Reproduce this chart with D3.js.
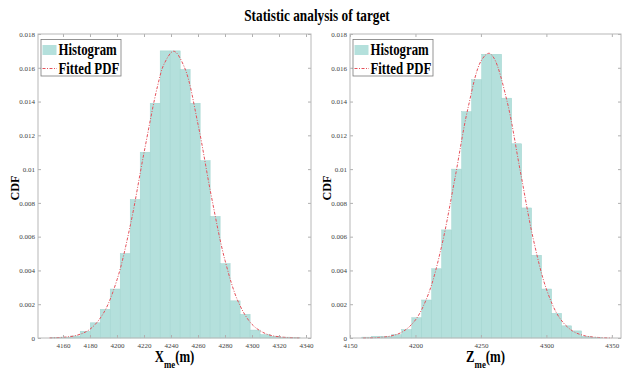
<!DOCTYPE html>
<html>
<head>
<meta charset="utf-8">
<script src="https://cdn.jsdelivr.net/npm/d3@7/dist/d3.min.js"></script>
<style>
body { margin: 0; background: #fff; }
svg { display: block; font-family: "Liberation Serif", "Times New Roman", serif; }
.axis { font-family: "Liberation Serif", "Times New Roman", serif; }
.axis .tick text { font-size: 7px; fill: #444; }
.axis .tick line { stroke: #b0b0b0; }
.axis path.domain { display: none; }
</style>
</head>
<body>
<div id="chart_area"></div>
<script>
// ---- data ----
var yTicks = [0, 0.002, 0.004, 0.006, 0.008, 0.01, 0.012, 0.014, 0.016, 0.018];
var yTickLabels = ["0", "0.002", "0.004", "0.006", "0.008", "0.01", "0.012", "0.014", "0.016", "0.018"];

// left panel (X_me)
var xTicksLeft = [4160, 4180, 4200, 4220, 4240, 4260, 4280, 4300, 4320, 4340];
var binEdgesLeft = [4150.6, 4158.0, 4165.4, 4172.8, 4180.2, 4187.6, 4195.0, 4202.4, 4209.8, 4217.2,
	4224.6, 4232.0, 4239.4, 4246.8, 4254.2, 4261.6, 4269.0, 4276.4, 4283.8, 4291.2,
	4298.6, 4306.0, 4313.4, 4320.8, 4328.2, 4335.6];
var histLeft = [0.00003, 0.00005, 0.00012, 0.0004, 0.0009, 0.0017, 0.0029, 0.0050, 0.0082, 0.0110,
	0.0139, 0.0170, 0.0170, 0.0159, 0.0139, 0.0105, 0.0072, 0.0044, 0.0022, 0.0014,
	0.00047, 0.0002, 0.0001, 0.00005, 0.00002];
var pdfXLeft = [4150, 4160, 4170, 4180, 4190, 4200, 4210, 4220, 4230, 4235, 4242, 4250, 4260, 4270, 4280, 4290, 4300, 4310, 4320, 4335];
var pdfYLeft = [0.000008, 0.00004, 0.000155, 0.00052, 0.00147, 0.00344, 0.00672, 0.01096, 0.0149, 0.01624, 0.01698, 0.01602, 0.01266, 0.00835, 0.0046, 0.00211, 0.00081, 0.00026, 0.00007, 0.000005];

// right panel (Z_me)
var xTicksRight = [4150, 4200, 4250, 4300, 4350];
var binEdgesRight = [4159.0, 4166.6, 4174.3, 4181.9, 4189.5, 4197.2, 4204.8, 4212.4, 4220.0, 4227.7,
	4235.3, 4242.9, 4250.6, 4258.2, 4265.8, 4273.5, 4281.1, 4288.7, 4296.3, 4304.0,
	4311.6, 4319.2, 4326.9, 4334.5, 4342.1];
var histRight = [0.00005, 0.0001, 0.0001, 0.0002, 0.0005, 0.0012, 0.00225, 0.0041, 0.0064, 0.0100,
	0.0134, 0.0153, 0.0168, 0.0168, 0.0142, 0.0115, 0.0077, 0.0049, 0.0029, 0.00146,
	0.00072, 0.00042, 0.0001, 0.00004];
var pdfXRight = [4160, 4170, 4180, 4190, 4200, 4210, 4220, 4230, 4240, 4250, 4256, 4260, 4270, 4280, 4290, 4300, 4310, 4320, 4330, 4340, 4350];
var pdfYRight = [0.000005, 0.000024, 0.0001, 0.00036, 0.00107, 0.00263, 0.00544, 0.00939, 0.01357, 0.01639, 0.01686, 0.01657, 0.01401, 0.00991, 0.00586, 0.0029, 0.0012, 0.000415, 0.00012, 0.00003, 0.000006];

var titleText = "Statistic analysis of target";
var yLabel = "CDF";
var legendLabels = ["Histogram", "Fitted PDF"];

// ---- frame ----
var frame_width = 622, frame_height = 369;
var svg = d3.select("#chart_area").append("svg")
	.attr("width", frame_width)
	.attr("height", frame_height);

var barFill = "#b4e0dc", barEdge = "#a0d3ce", pdfColor = "#e5505a", boxColor = "#b8b8b8";
var squeeze = 0.8; // the source picture is horizontally squashed

// title
svg.append("text")
	.attr("transform", "translate(317,20.5) scale(0.83,1)")
	.attr("text-anchor", "middle")
	.style("font-size", "16px")
	.style("font-weight", "bold")
	.text(titleText);

drawPanel({
	left: 38, right: 311, top: 34, bottom: 338,
	xDomain: [4141.5, 4343.7], xTicks: xTicksLeft,
	edges: binEdgesLeft, hist: histLeft, pdfX: pdfXLeft, pdfY: pdfYLeft,
	xName: "X", ylabX: 15
});

drawPanel({
	left: 350, right: 621, top: 34, bottom: 338,
	xDomain: [4150, 4357], xTicks: xTicksRight,
	edges: binEdgesRight, hist: histRight, pdfX: pdfXRight, pdfY: pdfYRight,
	xName: "Z", ylabX: 327
});

function drawPanel(p) {
	var xScale = d3.scaleLinear().domain(p.xDomain).range([p.left, p.right]);
	var yScale = d3.scaleLinear().domain([0, 0.018]).range([p.bottom, p.top]);
	var g = svg.append("g");

	// histogram bars
	var bars = p.hist.map(function(v, i) { return {x0: p.edges[i], x1: p.edges[i + 1], v: v}; });
	g.append("g").selectAll("rect")
		.data(bars)
		.enter().append("rect")
		.attr("x", function(d) { return xScale(d.x0); })
		.attr("width", function(d) { return xScale(d.x1) - xScale(d.x0); })
		.attr("y", function(d) { return yScale(d.v); })
		.attr("height", function(d) { return yScale(0) - yScale(d.v); })
		.attr("fill", barFill)
		.attr("stroke", barEdge)
		.attr("stroke-width", 0.5);

	// fitted pdf
	var pts = p.pdfX.map(function(x, i) { return [x, p.pdfY[i]]; });
	var line = d3.line()
		.x(function(d) { return xScale(d[0]); })
		.y(function(d) { return yScale(d[1]); })
		.curve(d3.curveCatmullRom);
	g.append("path")
		.attr("d", line(pts))
		.attr("fill", "none")
		.attr("stroke", pdfColor)
		.attr("stroke-width", 1)
		.attr("stroke-dasharray", "3,1.5,1,1.5");

	// axes, ticks pointing inward on all four sides
	g.append("g").attr("class", "axis")
		.attr("transform", "translate(0," + p.bottom + ")")
		.call(d3.axisBottom(xScale).tickValues(p.xTicks).tickSizeInner(-3).tickSizeOuter(0).tickPadding(5)
			.tickFormat(d3.format("d")));
	g.append("g").attr("class", "axis")
		.attr("transform", "translate(0," + p.top + ")")
		.call(d3.axisTop(xScale).tickValues(p.xTicks).tickSizeInner(-3).tickSizeOuter(0).tickFormat(""));
	g.append("g").attr("class", "axis")
		.attr("transform", "translate(" + p.left + ",0)")
		.call(d3.axisLeft(yScale).tickValues(yTicks).tickSizeInner(-3).tickSizeOuter(0).tickPadding(3)
			.tickFormat(function(d, i) { return yTickLabels[i]; }));
	g.append("g").attr("class", "axis")
		.attr("transform", "translate(" + p.right + ",0)")
		.call(d3.axisRight(yScale).tickValues(yTicks).tickSizeInner(-3).tickSizeOuter(0).tickFormat(""));

	g.append("rect")
		.attr("x", p.left).attr("y", p.top)
		.attr("width", p.right - p.left).attr("height", p.bottom - p.top)
		.attr("fill", "none").attr("stroke", boxColor).attr("stroke-width", 1);

	// legend
	var lg = g.append("g").attr("transform", "translate(" + (p.left + 3) + "," + (p.top + 5.5) + ")");
	lg.append("rect")
		.attr("width", 80).attr("height", 36.5)
		.attr("fill", "#fff").attr("stroke", "#7a7a7a").attr("stroke-width", 0.8);
	lg.append("rect")
		.attr("x", 1.5).attr("y", 5.5).attr("width", 14).attr("height", 10)
		.attr("fill", barFill);
	lg.append("line")
		.attr("x1", 1.5).attr("x2", 16).attr("y1", 29).attr("y2", 29)
		.attr("stroke", pdfColor).attr("stroke-dasharray", "3,1.5,1,1.5");
	legendLabels.forEach(function(t, i) {
		lg.append("text")
			.attr("transform", "translate(17.5," + (15.5 + i * 19) + ") scale(" + squeeze + ",1)")
			.style("font-size", "16px").style("font-weight", "bold")
			.text(t);
	});

	// y label
	svg.append("text")
		.attr("transform", "translate(" + p.ylabX + "," + ((p.top + p.bottom) / 2 + 2) + ") rotate(-90) scale(0.76,0.8)")
		.attr("text-anchor", "middle")
		.attr("dy", "0.35em")
		.style("font-size", "16px").style("font-weight", "bold")
		.text(yLabel);

	// x label with subscript
	var xl = svg.append("text")
		.attr("transform", "translate(" + ((p.left + p.right) / 2) + ",361.5) scale(" + squeeze + ",1)")
		.attr("text-anchor", "middle")
		.style("font-size", "16px").style("font-weight", "bold");
	xl.append("tspan").text(p.xName);
	xl.append("tspan").attr("dy", 6).style("font-size", "11px").text("me");
	xl.append("tspan").attr("dy", -6).text("(m)");
}
</script>
</body>
</html>
